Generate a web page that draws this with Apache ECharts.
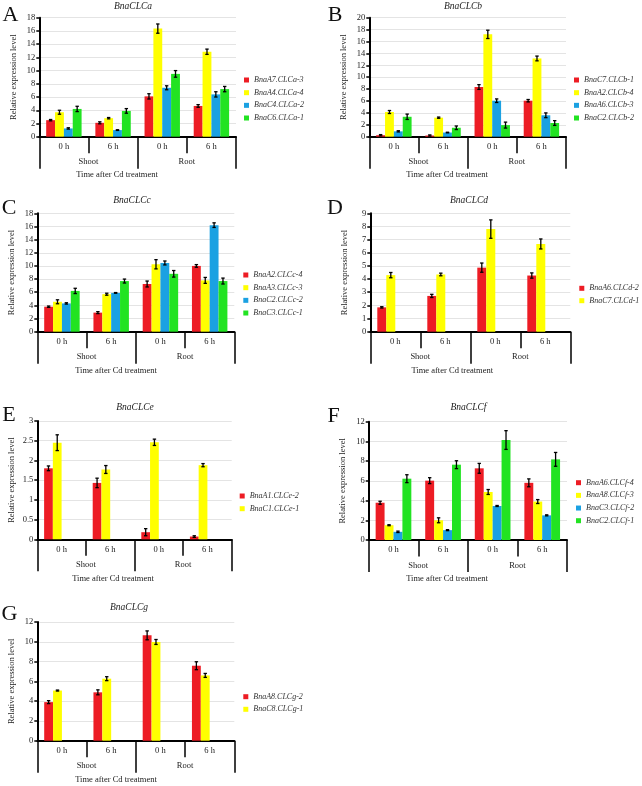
<!DOCTYPE html>
<html><head><meta charset="utf-8">
<script src="https://cdn.jsdelivr.net/npm/echarts@6/dist/echarts.min.js"></script>
<style>html,body{margin:0;padding:0;background:#fff}#c{width:642px;height:786px}</style>
</head><body><div id="c"></div>
<script>
// ---------------- DATA ----------------
const timeLabels = ['0 h', '6 h', '0 h', '6 h'];
const tissueLabels = ['Shoot', 'Root'];
const xAxisTitle = 'Time after Cd treatment';
const yAxisTitle = 'Relative expression level';

const titleA = 'BnaCLCa';
const genesA = ['BnaA7.CLCa-3', 'BnaA4.CLCa-4', 'BnaC4.CLCa-2', 'BnaC6.CLCa-1'];
const valuesA = [[2.5, 2.1, 6.1, 4.65], [3.7, 2.8, 16.35, 12.85], [1.25, 1.0, 7.4, 6.4], [4.2, 3.9, 9.5, 7.2]];
const errorsA = [[0.1, 0.15, 0.4, 0.2], [0.3, 0.1, 0.7, 0.4], [0.1, 0.05, 0.3, 0.4], [0.4, 0.35, 0.5, 0.4]];

const titleB = 'BnaCLCb';
const genesB = ['BnaC7.CLCb-1', 'BnaA2.CLCb-4', 'BnaA6.CLCb-3', 'BnaC2.CLCb-2'];
const valuesB = [[0.25, 0.2, 8.35, 6.05], [4.15, 3.2, 17.2, 13.15], [0.9, 0.7, 6.05, 3.6], [3.35, 1.5, 1.95, 2.3]];
const errorsB = [[0.1, 0.1, 0.4, 0.2], [0.25, 0.1, 0.7, 0.4], [0.1, 0.05, 0.3, 0.4], [0.45, 0.3, 0.5, 0.4]];

const titleC = 'BnaCLCc';
const genesC = ['BnaA2.CLCc-4', 'BnaA3.CLCc-3', 'BnaC2.CLCc-2', 'BnaC3.CLCc-1'];
const valuesC = [[3.8, 2.9, 7.25, 10.0], [4.55, 5.7, 10.25, 7.8], [4.3, 5.9, 10.45, 16.2], [6.2, 7.7, 8.8, 7.7]];
const errorsC = [[0.1, 0.15, 0.45, 0.2], [0.3, 0.15, 0.7, 0.45], [0.1, 0.05, 0.3, 0.35], [0.4, 0.3, 0.5, 0.45]];

const titleD = 'BnaCLCd';
const genesD = ['BnaA6.CLCd-2', 'BnaC7.CLCd-1'];
const valuesD = [[1.85, 2.72, 4.87, 4.27], [4.3, 4.35, 7.8, 6.67]];
const errorsD = [[0.05, 0.12, 0.35, 0.2], [0.2, 0.1, 0.7, 0.38]];

const titleE = 'BnaCLCe';
const genesE = ['BnaA1.CLCe-2', 'BnaC1.CLCe-1'];
const valuesE = [[1.8, 1.43, 0.18, 0.07], [2.45, 1.77, 2.46, 1.88]];
const errorsE = [[0.06, 0.12, 0.09, 0.02], [0.2, 0.1, 0.08, 0.04]];

const titleF = 'BnaCLCf';
const genesF = ['BnaA6.CLCf-4', 'BnaA8.CLCf-3', 'BnaC3.CLCf-2', 'BnaC2.CLCf-1'];
const valuesF = [[3.78, 6.02, 7.27, 5.8], [1.5, 2.0, 4.87, 3.9], [0.83, 1.0, 3.45, 2.5], [6.22, 7.64, 10.14, 8.18]];
const errorsF = [[0.15, 0.3, 0.5, 0.4], [0.05, 0.25, 0.25, 0.2], [0.07, 0.05, 0.05, 0.05], [0.4, 0.4, 0.95, 0.7]];

const titleG = 'BnaCLCg';
const genesG = ['BnaA8.CLCg-2', 'BnaC8.CLCg-1'];
const valuesG = [[3.9, 4.89, 10.65, 7.58], [5.07, 6.27, 9.98, 6.6]];
const errorsG = [[0.15, 0.25, 0.45, 0.4], [0.05, 0.2, 0.25, 0.2]];

const yMax = [18, 20, 18, 9, 3, 12, 12];
const yInterval = [2, 2, 2, 1, 0.5, 2, 2];

// ---------------- LAYOUT / STYLE ----------------
const colors = ['#ed1c24', '#ffff00', '#1ba1e2', '#22e322'];
const SERIF = '"Liberation Serif", "DejaVu Serif", serif';
const GAP = 0.28;

const panels = [
  {letter: 'A', title: titleA, genes: genesA, values: valuesA, errors: errorsA,
   grid: {left: 39.3, top: 17.7, width: 196.7, height: 119},
   legend: {left: 244, top: 75, gap: 2.67}, titlePos: [133, 6], letterPos: [10.5, 15], namePos: [117, 175]},
  {letter: 'B', title: titleB, genes: genesB, values: valuesB, errors: errorsB,
   grid: {left: 369.3, top: 17.7, width: 196.7, height: 119},
   legend: {left: 574, top: 75, gap: 2.67}, titlePos: [463, 6], letterPos: [335, 15], namePos: [447, 175]},
  {letter: 'C', title: titleC, genes: genesC, values: valuesC, errors: errorsC,
   grid: {left: 37.3, top: 213.3, width: 197, height: 118.4},
   legend: {left: 243.3, top: 270, gap: 2.67}, titlePos: [132, 200.5], letterPos: [9, 208], namePos: [116, 370.7]},
  {letter: 'D', title: titleD, genes: genesD, values: valuesD, errors: errorsD,
   grid: {left: 370.3, top: 213.3, width: 200, height: 118.4},
   legend: {left: 579.3, top: 283.3, gap: 2.4}, titlePos: [469, 200.5], letterPos: [335, 208], namePos: [452.3, 370.7]},
  {letter: 'E', title: titleE, genes: genesE, values: valuesE, errors: errorsE,
   grid: {left: 37.3, top: 421, width: 194.4, height: 118.3},
   legend: {left: 239.7, top: 491, gap: 2.7}, titlePos: [135, 407], letterPos: [9, 415], namePos: [113, 578.3]},
  {letter: 'F', title: titleF, genes: genesF, values: valuesF, errors: errorsF,
   grid: {left: 368.7, top: 421.7, width: 198.3, height: 118.3},
   legend: {left: 576, top: 477.7, gap: 2.67}, titlePos: [468.5, 407], letterPos: [333.5, 416], namePos: [447, 579]},
  {letter: 'G', title: titleG, genes: genesG, values: valuesG, errors: errorsG,
   grid: {left: 37.3, top: 622, width: 197, height: 118.7},
   legend: {left: 243.3, top: 691.7, gap: 2.6}, titlePos: [129, 607], letterPos: [9.5, 614.5], namePos: [116, 780]}
];

function errRender(slot) {
  return function (params, api) {
    const x = api.value(0), y = api.value(1), e = api.value(2);
    const band = api.size([1, 0])[0];
    const total = band * (1 - GAP);
    const bw = total / 4;
    const cx = api.coord([x, 0])[0] - total / 2 + bw * (slot + 0.5);
    const top = api.coord([x, y + e])[1];
    const bot = api.coord([x, Math.max(y - e, 0)])[1];
    const cap = 1.7;
    const style = {stroke: '#000', lineWidth: 1.3};
    return {type: 'group', children: [
      {type: 'line', shape: {x1: cx, y1: top, x2: cx, y2: bot}, style: style},
      {type: 'line', shape: {x1: cx - cap, y1: top, x2: cx + cap, y2: top}, style: style},
      {type: 'line', shape: {x1: cx - cap, y1: bot, x2: cx + cap, y2: bot}, style: style}
    ]};
  };
}

const grids = [], xAxes = [], yAxes = [], series = [], legends = [], graphics = [];

panels.forEach(function (p, pi) {
  grids.push(Object.assign({containLabel: false}, p.grid));
  xAxes.push({
    type: 'category', gridIndex: pi, data: timeLabels, position: 'bottom',
    axisLine: {show: true, lineStyle: {color: '#000', width: 2}},
    axisTick: {show: true, interval: 0, length: 16.5, lineStyle: {color: '#000', width: 1.5}},
    axisLabel: {interval: 0, margin: 5.5, fontFamily: SERIF, fontSize: 8.5, color: '#222'},
    splitLine: {show: false}
  });
  xAxes.push({
    type: 'category', gridIndex: pi, data: tissueLabels, position: 'bottom',
    axisLine: {show: false},
    axisTick: {show: true, interval: 0, length: 32, lineStyle: {color: '#000', width: 1.5}},
    axisLabel: {interval: 0, margin: 21, fontFamily: SERIF, fontSize: 8.5, color: '#222'},
    splitLine: {show: false}
  });
  yAxes.push({
    type: 'value', gridIndex: pi, min: 0, max: yMax[pi], interval: yInterval[pi],
    axisLine: {show: true, lineStyle: {color: '#000', width: 2}},
    axisTick: {show: true, length: 3, lineStyle: {color: '#000', width: 1.5}},
    axisLabel: {margin: 4, fontFamily: SERIF, fontSize: 8.5, color: '#222'},
    splitLine: {show: true, lineStyle: {color: '#e4e4e4', width: 1}},
    name: yAxisTitle, nameLocation: 'middle', nameGap: 21,
    nameTextStyle: {fontFamily: SERIF, fontSize: 8.5, color: '#222'}
  });
  for (let s = 0; s < 4; s++) {
    const has = s < p.genes.length;
    series.push({
      type: 'bar', name: has ? p.genes[s] : ('_empty_' + pi + '_' + s),
      xAxisIndex: pi * 2, yAxisIndex: pi,
      data: has ? p.values[s] : [],
      barGap: 0, barCategoryGap: (GAP * 100) + '%',
      itemStyle: {color: colors[s]}, emphasis: {disabled: true}, z: 2
    });
  }
  p.genes.forEach(function (g, s) {
    series.push({
      type: 'custom', name: '_err_' + pi + '_' + s,
      xAxisIndex: pi * 2, yAxisIndex: pi,
      data: p.values[s].map(function (v, i) { return [i, v, p.errors[s][i]]; }),
      encode: {x: 0, y: 1},
      renderItem: errRender(s), z: 5, silent: true
    });
  });
  legends.push({
    data: p.genes, orient: 'vertical', left: p.legend.left, top: p.legend.top,
    padding: 0, itemGap: p.legend.gap, itemWidth: 5, itemHeight: 5, icon: 'rect',
    textStyle: {fontFamily: SERIF, fontStyle: 'italic', fontSize: 8, color: '#333', lineHeight: 10},
    selectedMode: false
  });
  graphics.push({type: 'text', x: p.titlePos[0], y: p.titlePos[1],
    style: {text: p.title, fill: '#222', font: 'italic 9.5px ' + SERIF, textAlign: 'center', textVerticalAlign: 'middle'}});
  graphics.push({type: 'text', x: p.letterPos[0], y: p.letterPos[1],
    style: {text: p.letter, fill: '#111', font: '22px ' + SERIF, textAlign: 'center', textVerticalAlign: 'middle'}});
  graphics.push({type: 'text', x: p.namePos[0], y: p.namePos[1],
    style: {text: xAxisTitle, fill: '#222', font: '8.5px ' + SERIF, textAlign: 'center', textVerticalAlign: 'middle'}});
});

const chart = echarts.init(document.getElementById('c'), null, {renderer: 'canvas'});
chart.setOption({
  animation: false,
  backgroundColor: '#fff',
  grid: grids, xAxis: xAxes, yAxis: yAxes, series: series, legend: legends,
  graphic: graphics, tooltip: {show: false}
});
</script></body></html>
